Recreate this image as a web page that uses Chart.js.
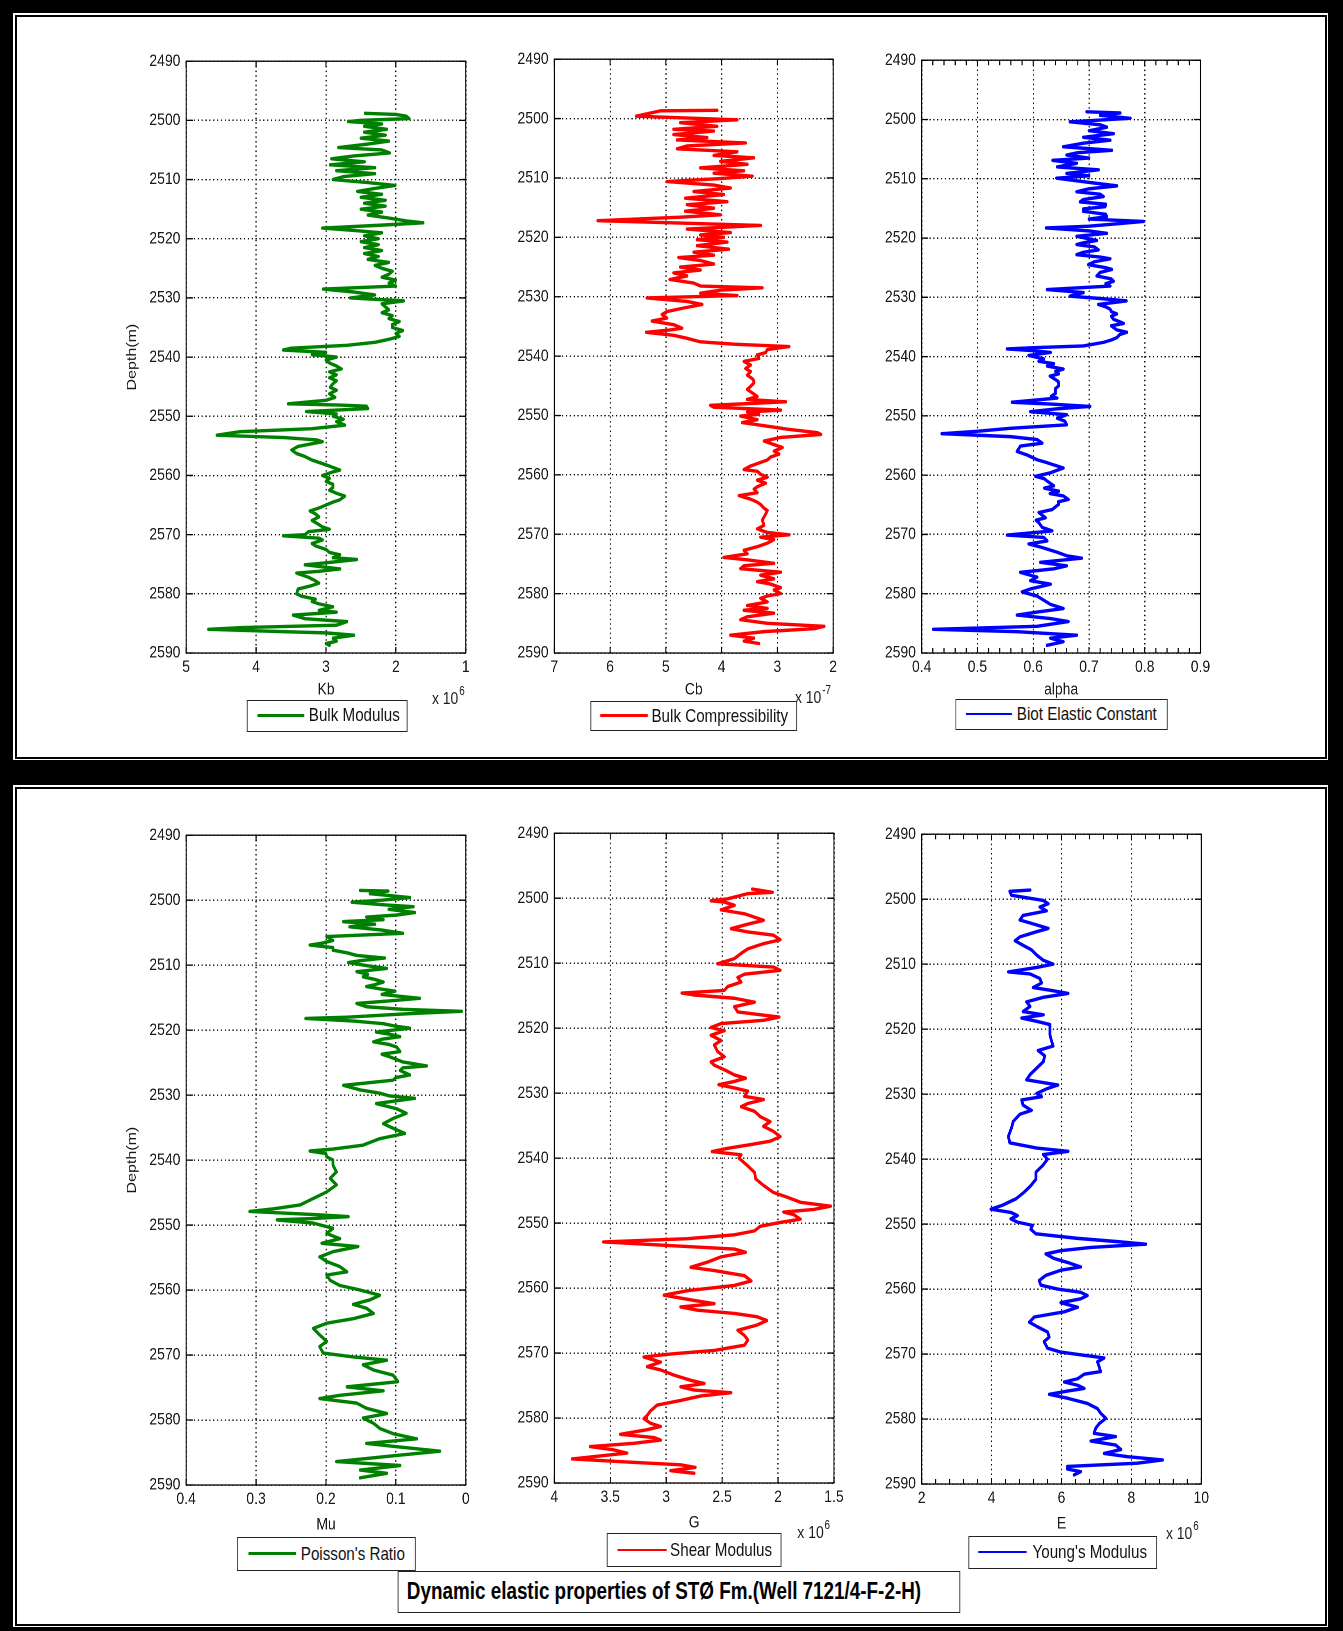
<!DOCTYPE html>
<html>
<head>
<meta charset="utf-8">
<title>Dynamic elastic properties of STØ Fm.(Well 7121/4-F-2-H)</title>
<script src="https://cdn.jsdelivr.net/npm/chart.js@4.4.1/dist/chart.umd.min.js"></script>
<style>
  html, body { margin: 0; padding: 0; }
  body { width: 1343px; height: 1631px; background: #000; position: relative; overflow: hidden;
         font-family: "Liberation Sans", Arial, Helvetica, sans-serif; color: #111; }
  .panel { position: absolute; background: #fff; }
  .panel .rule { position: absolute; left: 1.5px; top: 1.5px; right: 1.5px; bottom: 1.5px; border: 2px solid #000; }
  #stage { position: absolute; left: 0; top: 0; width: 1638px; height: 1631px; transform: scaleX(0.82); transform-origin: 0 0; }
  #stage canvas { position: absolute; }
  .legend { position: absolute; box-sizing: border-box; background: #fff; border: 1.3px solid #222; }
  .legend .sample { position: absolute; height: 2.6px; }
  .legend .label { position: absolute; top: 0; font-size: 18.5px; white-space: nowrap; color: #111; }
  .exp { position: absolute; font-size: 17px; line-height: 20px; white-space: nowrap; color: #1a1a1a; }
  .exp span { font-size: 12px; position: relative; top: -9px; margin-left: 1px; }
  #title { position: absolute; box-sizing: border-box; background: #fff; border: 1.3px solid #222;
           font-weight: bold; font-size: 23px; white-space: nowrap; color: #000; }
</style>
</head>
<body>
<div class="panel" style="left:13px;top:13px;width:1315px;height:747px"><div class="rule"></div></div>
<div class="panel" style="left:13px;top:785px;width:1315px;height:842px"><div class="rule"></div></div>
<div id="stage"></div>
<script>
// ---- well log data: [depth (m), value] ----
// Bulk modulus Kb (x 10^6)
const bulkModulusLog = [
[2498.8,2.44],[2499.0,2.00],[2499.3,1.85],[2499.7,1.81],[2500.0,2.50],[2500.2,2.68],[2500.6,2.20],[2501.0,2.45],[2501.5,2.13],[2502.0,2.45],
[2502.5,2.15],[2503.0,2.50],[2503.5,2.10],[2504.0,2.40],[2504.6,2.82],[2505.0,2.20],[2505.5,2.09],[2506.0,2.60],[2506.5,2.92],[2507.0,2.45],
[2507.5,2.94],[2508.0,2.30],[2508.5,2.85],[2509.0,2.30],[2509.5,2.75],[2510.0,2.90],[2510.5,2.40],[2511.0,2.01],[2511.5,2.30],[2512.0,2.55],
[2512.5,2.20],[2513.0,2.50],[2513.5,2.15],[2514.0,2.45],[2514.5,2.15],[2515.0,2.50],[2515.5,2.20],[2516.0,2.40],[2516.5,2.10],[2517.0,1.85],
[2517.3,1.61],[2517.7,2.20],[2518.2,3.05],[2518.6,2.60],[2519.0,2.20],[2519.5,2.45],[2520.0,2.25],[2520.5,2.50],[2521.0,2.25],[2521.5,2.45],
[2522.0,2.20],[2522.5,2.45],[2523.0,2.25],[2523.5,2.40],[2524.0,2.10],[2524.5,2.30],[2525.0,2.20],[2525.5,2.05],[2526.0,2.10],[2526.5,2.20],
[2527.0,2.00],[2527.5,2.10],[2528.0,2.00],[2528.5,3.04],[2529.0,2.60],[2529.5,2.30],[2530.0,2.65],[2530.5,1.89],[2531.0,2.20],[2531.5,2.15],
[2532.0,2.10],[2532.5,2.20],[2533.0,2.05],[2533.5,2.10],[2534.0,1.95],[2534.5,2.05],[2535.0,2.05],[2535.5,1.90],[2536.0,2.00],[2536.5,1.95],
[2537.0,2.10],[2537.5,2.30],[2538.0,2.70],[2538.5,3.50],[2538.8,3.61],[2539.2,3.00],[2539.6,3.20],[2540.0,2.85],[2540.5,3.00],[2541.0,2.95],
[2541.5,2.85],[2542.0,2.78],[2542.5,2.95],[2543.0,2.85],[2543.5,2.95],[2544.0,2.85],[2544.5,2.90],[2545.1,2.94],[2545.6,2.85],[2546.2,2.95],
[2546.8,2.87],[2547.3,3.00],[2547.9,3.54],[2548.1,2.80],[2548.3,2.42],[2548.7,2.40],[2549.2,3.28],[2549.6,2.85],[2550.0,2.90],[2550.5,2.75],
[2550.9,2.85],[2551.5,2.73],[2552.1,3.20],[2552.6,4.23],[2553.2,4.56],[2553.6,3.60],[2554.0,3.13],[2554.3,3.05],[2555.1,3.40],[2555.7,3.49],
[2556.3,3.42],[2556.8,3.30],[2557.4,3.20],[2558.2,3.00],[2559.1,2.80],[2559.4,2.90],[2560.0,3.05],[2560.5,2.95],[2561.0,3.00],[2561.5,2.90],
[2562.0,2.90],[2562.5,2.95],[2563.0,2.85],[2563.5,2.73],[2564.1,2.80],[2564.5,2.90],[2565.0,3.00],[2565.5,3.10],[2566.0,3.23],[2566.5,3.15],
[2567.0,3.10],[2567.6,3.20],[2568.3,3.10],[2568.7,3.05],[2569.1,2.95],[2569.5,3.25],[2570.0,3.30],[2570.2,3.61],[2570.6,3.10],[2570.9,3.05],
[2571.5,3.20],[2571.9,3.15],[2572.5,3.00],[2573.0,2.95],[2573.4,2.80],[2573.9,2.90],[2574.2,2.56],[2574.7,2.95],[2575.1,3.30],[2575.8,2.80],
[2576.2,3.10],[2576.5,3.42],[2577.2,3.25],[2577.8,3.15],[2578.2,3.10],[2578.6,3.20],[2579.2,3.40],[2580.0,3.42],[2580.4,3.35],[2580.9,3.15],
[2581.3,3.20],[2581.7,3.10],[2582.2,2.90],[2582.8,3.10],[2583.1,2.85],[2583.6,3.47],[2584.2,3.30],[2584.7,2.70],[2585.3,2.85],[2585.7,4.20],
[2586.0,4.68],[2586.4,3.60],[2586.6,3.00],[2587.0,2.60],[2587.5,2.90],[2588.0,2.85],[2588.4,3.00],[2588.7,2.95]
];
// Bulk compressibility Cb (x 10^-7)
const bulkCompressibilityLog = [
[2498.6,4.08],[2498.7,5.10],[2499.6,5.53],[2500.2,3.72],[2500.7,4.74],[2501.3,4.08],[2501.8,4.86],[2502.1,4.14],[2502.7,4.86],[2503.2,4.26],
[2503.6,4.80],[2504.1,3.57],[2504.6,4.62],[2505.1,4.80],[2505.6,3.72],[2506.2,4.14],[2506.6,3.42],[2507.2,4.02],[2507.7,3.54],[2508.3,4.38],
[2508.8,3.60],[2509.2,4.14],[2509.7,3.45],[2510.1,4.02],[2510.6,4.98],[2511.2,4.14],[2511.7,3.84],[2512.3,4.50],[2512.8,3.96],[2513.4,4.65],
[2514.0,3.90],[2514.5,4.62],[2515.1,4.14],[2515.6,4.65],[2516.2,4.02],[2516.6,4.74],[2517.2,6.22],[2517.6,4.74],[2518.0,3.30],[2518.6,4.62],
[2519.2,3.84],[2519.6,4.38],[2520.0,3.96],[2520.4,4.44],[2520.8,3.90],[2521.4,4.44],[2522.0,3.87],[2522.5,4.50],[2523.0,4.14],[2523.4,4.77],
[2523.9,4.38],[2524.5,4.14],[2525.0,4.74],[2525.5,4.38],[2526.0,4.86],[2526.5,4.62],[2527.1,4.93],[2527.7,4.50],[2528.2,4.38],[2528.5,3.27],
[2528.9,4.02],[2529.4,4.38],[2529.8,3.72],[2530.2,5.34],[2530.8,4.62],[2531.3,4.35],[2531.9,4.68],[2532.5,4.98],[2533.0,5.07],[2533.6,4.98],
[2534.1,5.25],[2534.7,4.86],[2535.3,4.71],[2535.6,4.92],[2536.0,5.35],[2536.5,4.86],[2537.0,4.62],[2537.6,4.38],[2538.0,3.78],[2538.4,2.79],
[2538.9,3.18],[2539.4,3.21],[2539.8,3.36],[2540.4,3.33],[2540.9,3.60],[2541.5,3.48],[2542.1,3.57],[2542.6,3.48],[2543.2,3.54],[2543.8,3.45],
[2544.2,3.42],[2544.5,3.42],[2545.1,3.48],[2545.6,3.54],[2546.2,3.45],[2546.8,3.36],[2547.3,3.54],[2547.7,2.85],[2548.3,4.20],[2548.6,4.14],
[2549.1,2.94],[2549.4,3.54],[2549.8,3.33],[2550.1,3.66],[2550.7,3.36],[2551.2,3.63],[2551.8,3.18],[2552.3,2.82],[2552.9,2.28],[2553.2,2.22],
[2553.7,2.94],[2554.3,3.24],[2554.9,3.06],[2555.4,2.91],[2556.0,3.06],[2556.5,2.97],[2557.0,3.12],[2557.5,3.18],[2558.1,3.36],[2558.5,3.48],
[2559.1,3.60],[2559.4,3.36],[2559.9,3.30],[2560.4,3.18],[2560.9,3.36],[2561.4,3.21],[2562.0,3.36],[2562.4,3.42],[2563.0,3.36],[2563.5,3.69],
[2564.1,3.48],[2564.6,3.36],[2565.0,3.30],[2565.6,3.24],[2566.0,3.18],[2566.6,3.21],[2567.6,3.27],[2568.5,3.24],[2569.1,3.36],[2569.7,3.18],
[2570.1,2.79],[2570.5,3.30],[2570.9,3.06],[2571.5,3.18],[2572.1,3.36],[2572.7,3.60],[2573.3,3.54],[2573.9,3.96],[2574.3,3.54],[2574.9,3.06],
[2575.3,3.60],[2575.8,3.66],[2576.4,2.94],[2576.9,3.30],[2577.5,3.06],[2578.0,3.36],[2578.4,3.12],[2579.0,2.94],[2579.4,3.06],[2580.0,2.94],
[2580.4,3.18],[2580.8,3.30],[2581.4,3.18],[2582.0,3.54],[2582.5,3.18],[2582.8,3.60],[2583.3,3.06],[2583.9,3.54],[2584.4,3.66],[2585.0,3.18],
[2585.5,2.16],[2585.9,2.34],[2586.4,3.24],[2587.0,3.84],[2587.5,3.42],[2588.0,3.60],[2588.4,3.33]
];
// Biot elastic constant alpha
const biotConstantLog = [
[2498.7,0.696],[2498.9,0.756],[2499.3,0.720],[2499.8,0.774],[2500.4,0.666],[2500.9,0.720],[2501.3,0.732],[2501.9,0.700],[2502.4,0.744],[2503.0,0.690],
[2503.5,0.738],[2504.0,0.690],[2504.6,0.654],[2505.2,0.741],[2505.6,0.680],[2506.0,0.660],[2506.5,0.700],[2506.9,0.635],[2507.4,0.678],[2508.0,0.643],
[2508.5,0.717],[2509.1,0.660],[2509.5,0.700],[2509.9,0.642],[2510.5,0.690],[2511.2,0.750],[2511.7,0.700],[2512.2,0.678],[2512.6,0.720],[2513.0,0.726],
[2513.5,0.690],[2513.9,0.684],[2514.3,0.730],[2514.7,0.729],[2515.1,0.690],[2515.5,0.690],[2516.0,0.730],[2516.4,0.732],[2516.8,0.700],[2517.2,0.798],
[2517.6,0.750],[2518.0,0.700],[2518.3,0.623],[2518.8,0.700],[2519.2,0.732],[2519.7,0.678],[2520.4,0.714],[2520.8,0.690],[2521.1,0.678],[2521.5,0.710],
[2522.0,0.717],[2522.4,0.690],[2522.8,0.678],[2523.2,0.720],[2523.5,0.738],[2524.0,0.710],[2524.5,0.699],[2525.0,0.730],[2525.3,0.741],[2525.8,0.720],
[2526.4,0.714],[2526.9,0.740],[2527.3,0.744],[2527.7,0.730],[2528.1,0.738],[2528.7,0.625],[2529.2,0.690],[2529.8,0.666],[2530.2,0.720],[2530.6,0.767],
[2531.2,0.717],[2531.6,0.730],[2532.0,0.738],[2532.4,0.740],[2532.8,0.750],[2533.2,0.740],[2533.7,0.744],[2534.4,0.762],[2534.8,0.740],[2535.1,0.744],
[2535.5,0.750],[2535.9,0.768],[2536.3,0.755],[2536.8,0.750],[2537.2,0.740],[2537.6,0.726],[2538.2,0.690],[2538.5,0.600],[2538.7,0.553],[2539.0,0.600],
[2539.3,0.631],[2539.8,0.592],[2540.4,0.619],[2540.8,0.610],[2541.2,0.637],[2541.6,0.625],[2542.1,0.654],[2542.5,0.640],[2542.9,0.646],[2543.3,0.630],
[2543.7,0.637],[2544.2,0.645],[2544.9,0.646],[2545.4,0.640],[2546.2,0.640],[2546.7,0.632],[2547.0,0.643],[2547.7,0.562],[2548.0,0.631],[2548.4,0.702],
[2548.8,0.643],[2549.3,0.595],[2549.8,0.660],[2550.4,0.643],[2550.9,0.657],[2551.5,0.660],[2552.1,0.559],[2552.6,0.499],[2553.0,0.436],[2553.5,0.559],
[2554.0,0.607],[2554.6,0.616],[2555.1,0.577],[2556.0,0.571],[2556.6,0.589],[2557.4,0.607],[2557.9,0.625],[2558.8,0.654],[2559.6,0.631],[2560.2,0.604],
[2560.6,0.620],[2561.0,0.625],[2561.8,0.637],[2562.2,0.620],[2562.7,0.646],[2563.1,0.630],[2563.5,0.654],[2564.1,0.663],[2564.5,0.645],[2564.9,0.646],
[2565.8,0.634],[2566.3,0.610],[2567.2,0.622],[2567.6,0.605],[2568.0,0.610],[2568.8,0.616],[2569.4,0.634],[2570.1,0.553],[2570.5,0.619],[2571.1,0.625],
[2571.6,0.592],[2572.2,0.616],[2573.0,0.643],[2573.6,0.660],[2574.0,0.687],[2574.7,0.613],[2575.3,0.660],[2575.8,0.637],[2576.4,0.577],[2577.2,0.607],
[2577.8,0.595],[2578.4,0.631],[2579.2,0.595],[2579.7,0.580],[2580.4,0.607],[2581.1,0.619],[2581.8,0.631],[2582.5,0.654],[2583.1,0.607],[2583.6,0.571],
[2584.2,0.631],[2584.7,0.663],[2585.5,0.607],[2586.0,0.421],[2586.4,0.571],[2587.0,0.678],[2587.5,0.631],[2588.1,0.654],[2588.7,0.625]
];
// Poisson's ratio Mu
const poissonRatioLog = [
[2498.5,0.151],[2498.6,0.111],[2499.0,0.137],[2499.6,0.080],[2500.0,0.120],[2500.3,0.163],[2500.7,0.120],[2501.0,0.075],[2501.4,0.110],[2501.9,0.073],
[2502.3,0.100],[2502.6,0.142],[2503.0,0.118],[2503.3,0.175],[2503.7,0.130],[2504.1,0.166],[2504.6,0.120],[2505.1,0.090],[2505.6,0.199],[2506.2,0.190],
[2506.6,0.205],[2506.9,0.223],[2507.3,0.190],[2507.7,0.190],[2508.1,0.170],[2508.5,0.156],[2508.9,0.116],[2509.3,0.150],[2509.6,0.168],[2510.1,0.140],
[2510.5,0.113],[2511.0,0.156],[2511.4,0.140],[2511.8,0.147],[2512.2,0.130],[2512.6,0.118],[2513.0,0.130],[2513.3,0.142],[2513.7,0.120],[2514.0,0.101],
[2514.5,0.120],[2515.1,0.066],[2515.5,0.110],[2515.9,0.156],[2516.4,0.142],[2516.8,0.090],[2517.1,0.006],[2517.4,0.070],[2517.6,0.104],[2518.0,0.170],
[2518.2,0.229],[2518.6,0.160],[2519.0,0.118],[2519.4,0.100],[2519.7,0.080],[2520.3,0.128],[2520.6,0.110],[2521.0,0.094],[2521.4,0.120],[2521.8,0.132],
[2522.2,0.110],[2522.6,0.099],[2523.3,0.094],[2523.7,0.120],[2524.1,0.109],[2524.9,0.090],[2525.5,0.056],[2525.8,0.090],[2526.2,0.094],[2526.9,0.080],
[2527.3,0.100],[2527.7,0.104],[2528.1,0.140],[2528.5,0.175],[2529.2,0.151],[2529.7,0.123],[2530.1,0.110],[2530.5,0.073],[2531.3,0.128],[2532.1,0.099],
[2532.8,0.085],[2533.6,0.104],[2534.4,0.118],[2535.1,0.104],[2535.9,0.087],[2536.7,0.123],[2537.7,0.147],[2538.3,0.190],[2538.6,0.223],[2539.0,0.200],
[2539.5,0.199],[2540.0,0.190],[2540.8,0.190],[2541.8,0.185],[2542.8,0.194],[2543.8,0.185],[2544.9,0.199],[2545.9,0.218],[2546.9,0.237],[2547.5,0.275],
[2547.9,0.309],[2548.4,0.213],[2548.7,0.168],[2549.0,0.220],[2549.2,0.270],[2549.7,0.218],[2550.5,0.190],[2551.3,0.199],[2552.1,0.180],[2552.8,0.206],
[2553.3,0.154],[2554.1,0.190],[2554.9,0.209],[2555.6,0.199],[2556.4,0.180],[2557.2,0.170],[2557.7,0.199],[2558.5,0.194],[2559.3,0.180],[2560.0,0.151],
[2560.8,0.123],[2561.5,0.137],[2562.2,0.161],[2562.8,0.142],[2563.6,0.132],[2564.4,0.161],[2565.1,0.199],[2565.9,0.218],[2566.9,0.209],[2567.9,0.199],
[2568.7,0.209],[2569.7,0.204],[2570.3,0.161],[2570.8,0.113],[2571.5,0.147],[2572.3,0.132],[2573.1,0.104],[2574.1,0.097],[2574.9,0.170],[2575.5,0.118],
[2576.2,0.180],[2576.7,0.209],[2577.4,0.156],[2578.2,0.142],[2579.0,0.113],[2579.7,0.147],[2580.5,0.132],[2581.3,0.123],[2582.1,0.104],[2582.9,0.070],
[2583.6,0.142],[2584.1,0.099],[2584.8,0.037],[2585.5,0.104],[2586.4,0.185],[2587.0,0.094],[2587.7,0.151],[2588.2,0.113],[2588.9,0.151]
];
// Shear modulus G (x 10^6)
const shearModulusLog = [
[2498.6,2.23],[2499.1,2.05],[2499.3,2.27],[2500.1,2.45],[2500.4,2.60],[2500.6,2.48],[2501.1,2.39],[2501.8,2.51],[2502.4,2.30],[2503.4,2.13],
[2504.0,2.27],[2504.7,2.42],[2505.2,2.27],[2505.7,2.04],[2506.4,1.98],[2507.0,2.13],[2507.8,2.27],[2508.5,2.33],[2509.3,2.39],[2510.1,2.54],
[2510.6,2.04],[2511.1,1.98],[2511.7,2.30],[2512.2,2.36],[2512.9,2.33],[2513.6,2.45],[2514.2,2.48],[2514.6,2.86],[2514.9,2.75],[2515.4,2.39],
[2516.0,2.21],[2516.7,2.39],[2517.5,2.36],[2518.3,1.99],[2518.8,2.13],[2519.3,2.51],[2519.9,2.60],[2520.4,2.48],[2521.1,2.60],[2521.9,2.51],
[2522.6,2.57],[2523.6,2.54],[2524.4,2.48],[2525.2,2.60],[2525.7,2.57],[2526.4,2.48],[2527.2,2.39],[2527.7,2.29],[2528.2,2.39],[2528.7,2.53],
[2529.2,2.39],[2529.7,2.27],[2530.5,2.30],[2531.0,2.13],[2531.6,2.27],[2532.1,2.33],[2532.8,2.21],[2533.6,2.16],[2534.4,2.07],[2535.1,2.13],
[2535.9,2.04],[2536.7,1.98],[2537.4,2.07],[2538.0,2.27],[2538.5,2.45],[2539.0,2.59],[2539.5,2.33],[2540.0,2.35],[2541.2,2.27],[2542.2,2.21],
[2543.2,2.20],[2544.2,2.13],[2545.3,2.04],[2546.0,1.92],[2546.8,1.80],[2547.4,1.53],[2547.9,1.68],[2548.3,1.95],[2548.7,1.86],[2549.4,1.80],
[2549.9,1.98],[2550.5,2.16],[2551.2,2.21],[2551.8,2.39],[2552.4,2.81],[2552.9,3.56],[2553.5,2.93],[2554.0,2.39],[2554.5,2.29],[2555.2,2.51],
[2556.0,2.63],[2556.8,2.78],[2557.3,2.57],[2558.1,2.30],[2558.9,2.24],[2559.6,2.39],[2560.4,2.81],[2561.1,3.02],[2561.9,2.75],[2562.4,2.57],
[2562.9,2.87],[2563.4,2.72],[2563.9,2.39],[2564.4,2.19],[2565.0,2.10],[2565.7,2.19],[2566.5,2.36],[2567.3,2.30],[2568.0,2.27],[2568.8,2.30],
[2569.6,2.57],[2570.1,2.93],[2570.6,3.20],[2571.4,3.05],[2572.1,3.17],[2572.6,3.05],[2573.4,2.93],[2574.2,2.78],[2574.7,2.66],[2575.2,2.87],
[2575.7,2.75],[2576.1,2.42],[2576.6,2.69],[2577.3,2.87],[2578.0,3.08],[2578.9,3.14],[2579.6,3.17],[2580.1,3.20],[2580.8,3.14],[2581.3,3.05],
[2581.8,3.17],[2582.5,3.41],[2583.0,3.11],[2583.4,3.05],[2583.9,3.29],[2584.4,3.68],[2584.9,3.47],[2585.4,3.35],[2585.9,3.62],[2586.3,3.84],
[2586.8,3.32],[2587.2,2.87],[2587.6,2.74],[2588.1,2.96],[2588.5,2.75]
];
// Young's modulus E (x 10^6)
const youngModulusLog = [
[2498.6,5.10],[2498.8,4.52],[2499.4,4.57],[2500.2,5.48],[2500.7,5.62],[2501.2,5.38],[2501.8,5.57],[2502.5,4.90],[2503.2,4.81],[2503.8,5.19],
[2504.5,5.62],[2505.0,5.29],[2505.8,4.81],[2506.4,4.67],[2507.1,4.90],[2507.8,5.14],[2508.6,5.29],[2509.4,5.48],[2510.0,5.76],[2510.5,5.29],
[2511.2,4.48],[2511.5,5.10],[2512.2,5.38],[2512.9,5.43],[2513.6,5.19],[2514.0,5.67],[2514.5,6.19],[2515.1,5.48],[2515.8,5.00],[2516.5,5.10],
[2517.3,4.90],[2517.8,5.48],[2518.3,4.86],[2518.8,5.29],[2519.3,5.67],[2520.1,5.67],[2520.9,5.67],[2521.7,5.71],[2522.6,5.76],[2523.3,5.33],
[2524.1,5.52],[2525.0,5.48],[2526.0,5.29],[2527.0,5.10],[2527.8,5.00],[2528.6,5.90],[2529.2,5.57],[2529.9,5.29],[2530.4,5.43],[2530.9,4.86],
[2531.7,4.90],[2532.5,5.14],[2533.1,4.81],[2534.2,4.62],[2535.2,4.57],[2536.5,4.48],[2537.5,4.52],[2538.3,5.29],[2538.8,6.19],[2539.3,5.48],
[2540.0,5.60],[2541.0,5.46],[2542.0,5.27],[2543.1,5.27],[2544.1,5.12],[2545.1,4.93],[2546.1,4.70],[2547.1,4.31],[2547.7,3.98],[2548.2,4.55],
[2548.7,4.74],[2549.2,4.55],[2549.7,4.74],[2550.2,5.17],[2550.8,5.12],[2551.5,5.27],[2552.2,6.46],[2552.7,7.60],[2553.1,8.41],[2553.6,6.84],
[2554.1,5.98],[2554.6,5.55],[2555.3,5.79],[2555.9,6.17],[2556.6,6.55],[2557.1,5.98],[2557.9,5.55],[2558.7,5.36],[2559.4,5.41],[2560.0,5.89],
[2560.5,6.55],[2561.0,6.74],[2561.5,6.55],[2562.1,5.98],[2562.8,6.46],[2563.5,6.08],[2564.3,5.22],[2565.1,5.08],[2565.8,5.31],[2566.6,5.60],
[2567.4,5.65],[2568.1,5.50],[2569.1,5.60],[2569.7,5.98],[2570.2,6.65],[2570.6,7.22],[2571.2,7.03],[2572.0,7.08],[2572.7,7.12],[2573.1,6.65],
[2573.8,6.46],[2574.3,6.08],[2574.8,6.46],[2575.3,6.65],[2575.7,6.17],[2576.2,5.65],[2576.8,6.17],[2577.6,6.74],[2578.4,7.03],[2579.1,7.12],
[2579.9,7.27],[2580.7,7.08],[2581.4,6.98],[2582.2,6.93],[2582.7,7.55],[2583.4,6.84],[2584.0,7.55],[2584.7,7.70],[2585.3,7.22],[2585.8,7.89],
[2586.3,8.89],[2586.8,8.17],[2587.3,6.17],[2587.7,6.17],[2588.1,6.55],[2588.6,6.36]
];

// ---- axis tick labels ----
const depthTicks = [2490, 2500, 2510, 2520, 2530, 2540, 2550, 2560, 2570, 2580, 2590];
const kbTicks    = [5, 4, 3, 2, 1];
const cbTicks    = [7, 6, 5, 4, 3, 2];
const alphaTicks = [0.4, 0.5, 0.6, 0.7, 0.8, 0.9];
const muTicks    = [0.4, 0.3, 0.2, 0.1, 0];
const gTicks     = [4, 3.5, 3, 2.5, 2, 1.5];
const eTicks     = [2, 4, 6, 8, 10];

const figureTitle = 'Dynamic elastic properties of STØ Fm.(Well 7121/4-F-2-H)';

// ---- layout ----
const S = 0.82;                 // horizontal compression of the whole figure
const sx = v => v / S;          // page x -> stage x
const stage = document.getElementById('stage');
const AXIS_W = 80, PAD_T = 14, PAD_R = 30;
const INK = '#1a1a1a';

Chart.defaults.font.family = '"Liberation Sans", Arial, Helvetica, sans-serif';
Chart.defaults.color = INK;

// box around the axes with inward tick marks on all four sides
const framePlugin = {
  id: 'frame',
  afterDatasetsDraw(chart, args, opts) {
    const {ctx, chartArea: a} = chart;
    const xs = chart.scales.x, ys = chart.scales.y;
    ctx.save();
    ctx.setLineDash([]);
    ctx.strokeStyle = '#000';
    ctx.lineWidth = 1.3;
    ctx.strokeRect(a.left, a.top, a.right - a.left, a.bottom - a.top);
    ctx.beginPath();
    const xMark = (v, len) => {
      const p = xs.getPixelForValue(v);
      ctx.moveTo(p, a.top); ctx.lineTo(p, a.top + len);
      ctx.moveTo(p, a.bottom); ctx.lineTo(p, a.bottom - len);
    };
    xs.ticks.forEach(t => xMark(t.value, 6));
    if (opts && opts.minor) {
      const n = Math.round((xs.max - xs.min) / opts.minor);
      for (let i = 1; i < n; i++) xMark(xs.min + i * opts.minor, 5);
    }
    ys.ticks.forEach(t => {
      const p = ys.getPixelForValue(t.value);
      ctx.moveTo(a.left, p); ctx.lineTo(a.left + 8, p);
      ctx.moveTo(a.right, p); ctx.lineTo(a.right - 8, p);
    });
    ctx.stroke();
    ctx.restore();
  }
};

const fmt = v => String(Math.round(v * 1000) / 1000);

const tracks = [
  { log: bulkModulusLog, ticks: kbTicks, reverse: true, color: '#008000', title: 'Kb', depthTitle: true,
    frame: [186, 58, 466, 653], axisH: 50,
    legend: { text: 'Bulk Modulus', box: [246.7, 700, 407.3, 731.7], sample: [256.7, 303.3], textX: 308 },
    exp: { pow: '6', x: 432, y: 699 } },
  { log: bulkCompressibilityLog, ticks: cbTicks, reverse: true, color: '#ff0000', title: 'Cb', depthTitle: false,
    frame: [554, 56, 833, 653], axisH: 50,
    legend: { text: 'Bulk Compressibility', box: [590, 700.7, 797.3, 731], sample: [599.3, 646.7], textX: 650.7 },
    exp: { pow: '-7', x: 795, y: 698 } },
  { log: biotConstantLog, ticks: alphaTicks, reverse: false, color: '#0000ff', title: 'alpha', depthTitle: false,
    frame: [921.7, 57, 1200.5, 653], axisH: 50, minor: 0.02,
    legend: { text: 'Biot Elastic Constant', box: [955.3, 699, 1167.7, 730], sample: [965, 1011], textX: 1016 } },
  { log: poissonRatioLog, ticks: muTicks, reverse: true, color: '#008000', title: 'Mu', depthTitle: true,
    frame: [186, 832, 466, 1485], axisH: 53,
    legend: { text: "Poisson's Ratio", box: [237.3, 1536.7, 416, 1570.7], sample: [247.3, 295], textX: 300 } },
  { log: shearModulusLog, ticks: gTicks, reverse: true, color: '#ff0000', title: 'G', depthTitle: false,
    frame: [554, 829.5, 833.5, 1482.5], axisH: 53,
    legend: { text: 'Shear Modulus', box: [606.7, 1533.3, 781.7, 1567.3], sample: [616.7, 665.7], textX: 669.3 },
    exp: { pow: '6', x: 797.3, y: 1533 } },
  { log: youngModulusLog, ticks: eTicks, reverse: false, color: '#0000ff', title: 'E', depthTitle: false,
    frame: [921.7, 831, 1201.5, 1484], axisH: 53, minor: 0.4,
    legend: { text: "Young's Modulus", box: [968.3, 1535.7, 1157.3, 1569.3], sample: [977.7, 1025.7], textX: 1031.7 },
    exp: { pow: '6', x: 1166, y: 1534 } }
];

function drawTrack(t) {
  const [fl, ft, fr, fb] = t.frame;
  const L = Math.round(sx(fl)), W = Math.round(sx(fr - fl));
  const T = Math.round(ft), H = Math.round(fb - ft);
  const cw = AXIS_W + W + PAD_R, ch = PAD_T + H + t.axisH;
  const canvas = document.createElement('canvas');
  canvas.width = cw; canvas.height = ch;
  canvas.style.left = (L - AXIS_W) + 'px';
  canvas.style.top = (T - PAD_T) + 'px';
  canvas.style.width = cw + 'px';
  canvas.style.height = ch + 'px';
  stage.appendChild(canvas);

  const xMin = Math.min(...t.ticks), xMax = Math.max(...t.ticks);
  const xStep = Math.abs(t.ticks[1] - t.ticks[0]);
  const dMin = Math.min(...depthTicks), dMax = Math.max(...depthTicks);
  const dStep = depthTicks[1] - depthTicks[0];

  const gridOpts = { color: '#000', lineWidth: 1.4, drawTicks: false };
  const borderOpts = { display: false, dash: [1.5, 3.2] };

  new Chart(canvas, {
    type: 'scatter',
    data: {
      datasets: [{
        data: t.log.map(([d, v]) => ({ x: v, y: d })),
        showLine: true,
        borderColor: t.color,
        backgroundColor: t.color,
        borderWidth: 3.4,
        borderJoinStyle: 'round',
        borderCapStyle: 'round',
        pointRadius: 0,
        pointHoverRadius: 0,
        tension: 0
      }]
    },
    options: {
      responsive: false,
      animation: false,
      devicePixelRatio: 2,
      events: [],
      layout: { padding: { left: 0, top: PAD_T, right: PAD_R, bottom: 0 } },
      plugins: { legend: { display: false }, tooltip: { enabled: false }, frame: { minor: t.minor || 0 } },
      scales: {
        x: {
          type: 'linear', position: 'bottom', min: xMin, max: xMax, reverse: t.reverse,
          ticks: { stepSize: xStep, padding: 4, maxRotation: 0, autoSkip: false, font: { size: 17 }, color: INK, callback: fmt },
          grid: gridOpts, border: borderOpts,
          title: { display: true, text: t.title, font: { size: 17 }, color: INK, padding: { top: 0, bottom: 3 } },
          afterFit: s => { s.height = t.axisH; }
        },
        y: {
          type: 'linear', position: 'left', min: dMin, max: dMax, reverse: true,
          ticks: { stepSize: dStep, padding: 7, autoSkip: false, font: { size: 17 }, color: INK, callback: v => String(v) },
          grid: gridOpts, border: borderOpts,
          title: { display: t.depthTitle, text: 'Depth(m)', font: { size: 16 }, color: INK, padding: { top: 4.5, bottom: 0 } },
          afterFit: s => { s.width = AXIS_W; }
        }
      }
    },
    plugins: [framePlugin]
  });
}

function addExponent(t) {
  if (!t.exp) return;
  const d = document.createElement('div');
  d.className = 'exp';
  d.style.left = sx(t.exp.x) + 'px';
  d.style.top = (t.exp.y - 10) + 'px';
  d.textContent = 'x 10';
  const sup = document.createElement('span');
  sup.textContent = t.exp.pow;
  d.appendChild(sup);
  stage.appendChild(d);
}

function addLegend(t) {
  const lg = t.legend;
  const [l, tp, r, b] = lg.box;
  const h = b - tp;
  const box = document.createElement('div');
  box.className = 'legend';
  box.style.left = sx(l) + 'px';
  box.style.top = tp + 'px';
  box.style.width = sx(r - l) + 'px';
  box.style.height = h + 'px';
  const line = document.createElement('div');
  line.className = 'sample';
  line.style.left = sx(lg.sample[0] - l) + 'px';
  line.style.width = sx(lg.sample[1] - lg.sample[0]) + 'px';
  line.style.top = (h / 2 - 2.6) + 'px';
  line.style.background = t.color;
  const label = document.createElement('div');
  label.className = 'label';
  label.style.left = sx(lg.textX - l) + 'px';
  label.style.lineHeight = (h - 3) + 'px';
  label.textContent = lg.text;
  box.appendChild(line);
  box.appendChild(label);
  stage.appendChild(box);
}

tracks.forEach(drawTrack);
tracks.forEach(addExponent);
tracks.forEach(addLegend);

// figure caption box
const cap = document.createElement('div');
cap.id = 'title';
cap.style.left = sx(397.7) + 'px';
cap.style.top = '1571px';
cap.style.width = sx(562.3) + 'px';
cap.style.height = '42px';
cap.style.paddingLeft = sx(8.3) + 'px';
cap.style.lineHeight = '39px';
cap.textContent = figureTitle;
stage.appendChild(cap);
</script>
</body>
</html>
